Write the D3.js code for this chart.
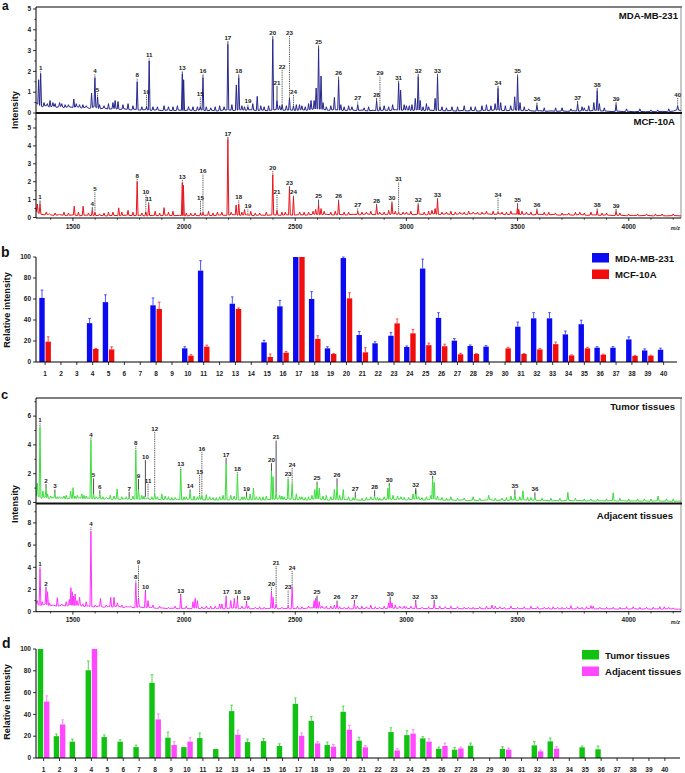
<!DOCTYPE html>
<html><head><meta charset="utf-8">
<script src="https://cdn.jsdelivr.net/npm/d3@7"></script>
<style>body{margin:0;background:#fff}svg{display:block}</style>
</head><body><script>
// ---------------- DATA ----------------
const mzMajorTicks = [1500, 2000, 2500, 3000, 3500, 4000];
const mzMinorTicks = [1400,1600,1700,1800,1900,2100,2200,2300,2400,2600,2700,2800,2900,3100,3200,3300,3400,3600,3700,3800,3900,4100,4200];
const categories = [1,2,3,4,5,6,7,8,9,10,11,12,13,14,15,16,17,18,19,20,21,22,23,24,25,26,27,28,29,30,31,32,33,34,35,36,37,38,39,40];
const relTicks = [0, 20, 40, 60, 80, 100];

// Panel a: MDA-MB-231 spectrum
const mdaBaseline = [[1334,0.5],[1345,0.4],[1362,0.3],[1380,0.36],[1395,0.28],[1410,0.34],[1425,0.27],[1445,0.32],[1460,0.26],[1480,0.3],[1500,0.27],[1520,0.3],[1540,0.24],[1560,0.28],[1575,0.22],[1595,0.3],[1620,0.2],[1640,0.24],[1660,0.18],[1685,0.22],[1710,0.17],[1730,0.2],[1760,0.15],[1780,0.18],[1800,0.14],[1825,0.16],[1850,0.13],[1875,0.15],[1900,0.12],[1925,0.14],[1950,0.11],[1975,0.14],[2000,0.12],[2025,0.14],[2050,0.11],[2075,0.15],[2100,0.11],[2125,0.13],[2150,0.1],[2175,0.14],[2200,0.15],[2225,0.12],[2250,0.16],[2275,0.13],[2300,0.16],[2325,0.12],[2350,0.14],[2375,0.11],[2400,0.15],[2425,0.17],[2450,0.13],[2475,0.15],[2500,0.12],[2525,0.16],[2550,0.13],[2575,0.18],[2600,0.2],[2625,0.17],[2650,0.13],[2675,0.16],[2700,0.14],[2725,0.12],[2750,0.15],[2775,0.12],[2800,0.14],[2825,0.1],[2850,0.13],[2875,0.11],[2900,0.14],[2925,0.12],[2950,0.16],[2975,0.13],[3000,0.15],[3025,0.12],[3050,0.16],[3075,0.11],[3100,0.14],[3125,0.12],[3150,0.13],[3175,0.1],[3200,0.12],[3225,0.09],[3250,0.12],[3275,0.1],[3300,0.12],[3325,0.09],[3350,0.13],[3375,0.11],[3400,0.15],[3425,0.13],[3450,0.11],[3475,0.14],[3500,0.13],[3525,0.11],[3550,0.12],[3575,0.09],[3600,0.11],[3625,0.08],[3650,0.1],[3675,0.08],[3700,0.1],[3725,0.08],[3750,0.11],[3775,0.09],[3800,0.12],[3825,0.1],[3850,0.13],[3875,0.1],[3900,0.09],[3925,0.07],[3950,0.09],[3975,0.07],[4000,0.08],[4025,0.06],[4050,0.08],[4075,0.06],[4100,0.07],[4125,0.06],[4150,0.08],[4175,0.06],[4200,0.09],[4215,0.15],[4235,0.12]];
const mdaPeaks = [[1346,1.6],[1355,1.9],[1370,0.5],[1397,0.6],[1420,0.45],[1440,0.5],[1465,0.4],[1504,0.67],[1530,0.4],[1560,0.35],[1584,0.95],[1599,1.7],[1611,0.78],[1640,0.35],[1680,0.5],[1703,0.55],[1748,0.45],[1789,1.5],[1831,0.3],[1843,2.5],[1880,0.3],[1910,0.35],[1950,0.3],[1992,1.87],[1998,1.6],[2040,0.3],[2060,0.3],[2073,0.3],[2085,1.7],[2120,0.25],[2160,0.35],[2197,3.3],[2235,1.35],[2246,1.7],[2272,0.3],[2287,0.3],[2309,0.45],[2329,0.8],[2360,0.3],[2399,3.55],[2418,0.6],[2430,0.35],[2441,0.4],[2474,0.7],[2492,0.35],[2519,0.4],[2545,0.3],[2571,0.6],[2594,1.2],[2605,3.1],[2616,1.78],[2640,0.3],[2676,0.75],[2695,1.6],[2720,0.3],[2781,0.4],[2810,0.25],[2866,0.58],[2881,0.3],[2920,0.3],[2938,0.4],[2965,1.43],[2974,1.1],[3013,0.35],[3040,0.7],[3053,1.75],[3062,0.6],[3100,0.3],[3129,0.7],[3140,1.75],[3180,0.25],[3230,0.3],[3290,0.3],[3340,0.35],[3380,0.35],[3399,0.45],[3412,1.19],[3424,0.5],[3469,0.35],[3487,0.78],[3500,1.72],[3511,0.5],[3550,0.2],[3587,0.37],[3671,0.25],[3740,0.2],[3770,0.45],[3800,0.25],[3843,0.5],[3858,1.07],[3868,0.45],[3943,0.4],[4050,0.2],[4130,0.15],[4220,0.35],
  [1385,0.45],[1410,0.5],[1450,0.45],[1480,0.4],[1515,0.45],[1545,0.4],[1620,0.4],[1660,0.45],[1690,0.6],[1725,0.4],[1770,0.35],[1810,0.3],[1860,0.3],[1930,0.3],[1970,0.35],[2020,0.3],[2100,0.3],[2140,0.3],[2180,0.3],[2215,0.4],[2260,0.35],[2345,0.35],[2380,0.35],[2460,0.35],[2505,0.4],[2530,0.35],[2560,0.45],[2585,0.6],[2625,0.5],[2660,0.35],[2705,0.4],[2740,0.35],[2755,0.3],[2830,0.3],[2900,0.35],[2990,0.4],[3000,0.35],[3025,0.4],[3075,0.3],[3090,0.45],[3160,0.3],[3205,0.3],[3260,0.35],[3310,0.3],[3360,0.4],[3445,0.35],[3530,0.3],[3620,0.25],[3700,0.25],[3790,0.3],[3820,0.35],[3890,0.25],[3990,0.2],[4100,0.15],[4180,0.2]];
// [number, m/z, leader top, leader bottom, style]
const mdaLabels = [[1,1355,2.0,1.9,'d'],[4,1599,1.85,1.7,'d'],[5,1611,0.95,0.78,'d'],[8,1789,1.65,1.5,'d'],[10,1831,0.85,0.2,'d'],[11,1843,2.62,2.5,'d'],[13,1992,2.0,1.87,'s'],[15,2073,0.75,0.15,'d'],[16,2085,1.85,1.7,'s'],[17,2197,3.45,3.3,'s'],[18,2246,1.85,1.7,'s'],[19,2287,0.4,0.28,'d'],[20,2399,3.7,3.55,'s'],[21,2418,1.3,0.6,'s'],[22,2441,2.07,0.4,'d'],[23,2474,3.7,0.7,'d'],[24,2492,0.87,0.35,'d'],[25,2605,3.25,3.1,'s'],[26,2695,1.75,1.6,'s'],[27,2781,0.55,0.4,'d'],[28,2866,0.72,0.58,'s'],[29,2881,1.75,0.3,'d'],[31,2965,1.55,1.43,'s'],[32,3053,1.88,1.75,'s'],[33,3140,1.88,1.75,'s'],[34,3412,1.3,1.19,'s'],[35,3500,1.85,1.72,'s'],[36,3587,0.5,0.37,'s'],[37,3770,0.58,0.45,'s'],[38,3858,1.2,1.07,'s'],[39,3943,0.52,0.4,'s'],[40,4220,0.72,0.35,'d']];

// Panel a: MCF-10A spectrum
const mcfBaseline = [[1334,0.35],[1350,0.2],[1370,0.15],[1390,0.18],[1410,0.12],[1440,0.15],[1470,0.11],[1500,0.14],[1530,0.1],[1560,0.13],[1590,0.1],[1620,0.12],[1650,0.09],[1680,0.12],[1710,0.1],[1740,0.13],[1770,0.1],[1800,0.12],[1830,0.09],[1860,0.12],[1890,0.1],[1920,0.13],[1950,0.1],[1980,0.12],[2010,0.09],[2040,0.12],[2070,0.1],[2100,0.13],[2130,0.1],[2160,0.14],[2190,0.12],[2220,0.16],[2250,0.12],[2280,0.15],[2310,0.11],[2340,0.14],[2370,0.12],[2400,0.15],[2430,0.12],[2460,0.15],[2490,0.13],[2520,0.16],[2550,0.13],[2580,0.18],[2610,0.15],[2640,0.18],[2670,0.14],[2700,0.17],[2730,0.14],[2760,0.18],[2790,0.15],[2820,0.2],[2850,0.16],[2880,0.19],[2910,0.16],[2940,0.2],[2970,0.17],[3000,0.2],[3030,0.16],[3060,0.19],[3090,0.15],[3120,0.2],[3150,0.17],[3180,0.2],[3210,0.16],[3240,0.21],[3270,0.17],[3300,0.22],[3330,0.18],[3360,0.21],[3390,0.17],[3420,0.2],[3450,0.16],[3480,0.2],[3510,0.17],[3540,0.19],[3570,0.15],[3600,0.18],[3630,0.14],[3660,0.17],[3690,0.13],[3720,0.16],[3750,0.13],[3780,0.17],[3810,0.12],[3840,0.15],[3870,0.12],[3900,0.14],[3930,0.11],[3960,0.13],[3990,0.1],[4020,0.12],[4050,0.1],[4080,0.12],[4110,0.09],[4140,0.11],[4170,0.09],[4200,0.11],[4235,0.09]];
const mcfPeaks = [[1340,0.75],[1352,0.75],[1380,0.3],[1420,0.25],[1460,0.3],[1506,0.63],[1525,0.3],[1546,0.63],[1570,0.25],[1587,0.4],[1599,0.3],[1640,0.25],[1680,0.3],[1706,0.54],[1748,0.4],[1770,0.3],[1789,2.0],[1828,0.3],[1841,0.7],[1870,0.35],[1910,0.55],[1950,0.35],[1992,1.94],[1997,1.8],[2030,0.25],[2074,0.25],[2085,0.3],[2110,0.35],[2150,0.3],[2197,4.36],[2212,0.3],[2234,0.7],[2246,0.75],[2272,0.45],[2300,0.35],[2340,0.25],[2399,2.4],[2418,0.4],[2440,0.3],[2474,1.63],[2492,1.1],[2520,0.3],[2560,0.3],[2592,0.45],[2605,0.7],[2616,0.5],[2660,0.3],[2695,0.87],[2720,0.3],[2781,0.35],[2820,0.3],[2866,0.64],[2900,0.3],[2935,0.8],[2965,0.3],[3000,0.3],[3053,0.7],[3100,0.35],[3129,0.5],[3140,0.98],[3180,0.3],[3220,0.3],[3260,0.3],[3300,0.3],[3340,0.3],[3390,0.35],[3412,0.3],[3450,0.3],[3500,0.6],[3505,0.45],[3540,0.3],[3587,0.4],[3640,0.3],[3700,0.25],[3760,0.3],[3800,0.25],[3858,0.38],[3900,0.25],[3943,0.35],[4000,0.2],[4080,0.2],[4150,0.2],[4200,0.2],
  [1395,0.2],[1440,0.2],[1480,0.25],[1620,0.2],[1660,0.3],[1720,0.3],[1810,0.25],[1890,0.25],[1930,0.3],[2010,0.25],[2050,0.25],[2130,0.25],[2170,0.3],[2260,0.3],[2320,0.25],[2370,0.3],[2455,0.3],[2540,0.3],[2580,0.35],[2630,0.35],[2680,0.35],[2740,0.3],[2800,0.3],[2840,0.35],[2880,0.3],[2920,0.4],[2950,0.35],[2985,0.3],[3020,0.35],[3080,0.3],[3115,0.4],[3160,0.3],[3200,0.35],[3240,0.3],[3280,0.35],[3320,0.3],[3360,0.35],[3430,0.3],[3470,0.35],[3520,0.35],[3560,0.3],[3620,0.3],[3670,0.25],[3730,0.25],[3780,0.3],[3830,0.3],[3880,0.25],[3960,0.25],[4040,0.2],[4120,0.2]];
const mcfLabels = [[1,1352,0.95,0.75,'s'],[4,1587,0.58,0.4,'s'],[5,1599,1.4,0.3,'d'],[8,1789,2.15,2.0,'d'],[10,1828,1.25,0.2,'d'],[11,1841,0.85,0.7,'s'],[13,1992,2.1,1.94,'d'],[15,2074,0.93,0.15,'d'],[16,2085,2.4,0.3,'d'],[17,2197,4.5,4.36,'s'],[18,2246,0.95,0.75,'d'],[19,2287,0.45,0.2,'d'],[20,2399,2.6,2.4,'d'],[21,2418,1.25,0.4,'d'],[23,2474,1.75,1.63,'s'],[24,2492,1.22,1.1,'s'],[25,2605,1.0,0.7,'s'],[26,2695,1.0,0.87,'s'],[27,2781,0.5,0.35,'d'],[28,2866,0.76,0.64,'s'],[30,2935,0.9,0.8,'s'],[31,2965,1.95,0.3,'d'],[32,3053,0.8,0.7,'s'],[33,3140,1.08,0.98,'s'],[34,3412,1.08,0.3,'d'],[35,3500,0.8,0.6,'s'],[36,3587,0.5,0.4,'s'],[38,3858,0.5,0.38,'s'],[39,3943,0.48,0.35,'s']];

// Panel b: relative intensity (null = not detected)
const mdaRel = [61,null,null,37,57,null,null,54,null,13,87,null,55.5,null,18.7,53,100,60,13,99,25.7,17.8,25,14.3,89,42,20.3,15.2,14.6,null,33.6,41.6,41.6,26.3,36,13.6,13.6,21.5,11,11.7];
const mdaErr = [7.5,null,null,4.5,7,null,null,7,null,1.5,9.5,null,6.5,null,2,5.7,0,7,1.5,1,3.3,1.5,3,1,9,5,2,1,1,null,4.4,5.4,5.4,3.2,3.8,1,1,2.5,1.5,1.5];
const mcfRel = [19.4,null,null,12.4,12,null,null,50.5,null,6,14.6,null,50.5,null,4.8,8.9,100,22,7.6,60.6,9.2,null,36.8,27.3,16,15,7.3,7.6,null,13,7.6,12,17,6.3,13,7,null,5.8,6,null];
const mcfErr = [4.6,null,null,0.5,2.5,null,null,6.5,null,1,1.5,null,1,null,2.8,1.1,0,3,0.5,5.4,4.4,null,4.2,3.7,2,2,1,0.5,null,1,0.5,1,2,0.5,1,0.5,null,0.5,0.5,null];

// Panel c: tumor tissue spectrum
const tumBaseline = [[1334,0.5],[1345,0.4],[1360,0.3],[1375,0.38],[1395,0.26],[1410,0.34],[1430,0.25],[1450,0.32],[1470,0.24],[1490,0.3],[1510,0.26],[1530,0.33],[1550,0.25],[1570,0.3],[1595,0.24],[1615,0.3],[1635,0.22],[1655,0.28],[1675,0.21],[1695,0.27],[1715,0.2],[1735,0.26],[1760,0.2],[1780,0.25],[1805,0.22],[1830,0.27],[1850,0.2],[1875,0.24],[1900,0.18],[1920,0.23],[1945,0.17],[1970,0.22],[1995,0.18],[2020,0.23],[2045,0.17],[2070,0.22],[2095,0.16],[2120,0.21],[2145,0.15],[2170,0.2],[2200,0.18],[2225,0.23],[2250,0.17],[2275,0.21],[2300,0.18],[2325,0.22],[2350,0.16],[2375,0.2],[2400,0.22],[2425,0.25],[2450,0.19],[2475,0.24],[2500,0.18],[2525,0.21],[2550,0.16],[2575,0.22],[2600,0.26],[2625,0.2],[2650,0.16],[2675,0.22],[2700,0.18],[2725,0.21],[2750,0.15],[2775,0.19],[2800,0.14],[2825,0.18],[2850,0.22],[2875,0.16],[2900,0.2],[2925,0.24],[2950,0.2],[2975,0.24],[3000,0.17],[3025,0.22],[3050,0.25],[3075,0.17],[3100,0.2],[3125,0.25],[3150,0.18],[3175,0.15],[3200,0.19],[3225,0.14],[3250,0.18],[3275,0.13],[3300,0.17],[3325,0.13],[3350,0.16],[3375,0.2],[3400,0.14],[3425,0.17],[3450,0.13],[3475,0.18],[3500,0.15],[3525,0.19],[3550,0.14],[3575,0.17],[3600,0.13],[3625,0.15],[3650,0.11],[3675,0.14],[3700,0.11],[3725,0.16],[3750,0.12],[3775,0.14],[3800,0.1],[3825,0.13],[3850,0.1],[3875,0.12],[3900,0.1],[3925,0.14],[3950,0.1],[3975,0.12],[4000,0.09],[4025,0.11],[4050,0.09],[4075,0.11],[4100,0.08],[4125,0.12],[4150,0.09],[4175,0.1],[4200,0.08],[4235,0.1]];
const tumPeaks = [[1340,1.33],[1352,5.27],[1365,0.8],[1379,1.0],[1386,0.6],[1400,0.45],[1419,0.64],[1440,0.4],[1470,0.5],[1490,0.8],[1501,1.03],[1520,0.5],[1540,0.6],[1560,0.45],[1581,4.34],[1593,0.6],[1605,0.4],[1621,0.64],[1650,0.35],[1668,0.5],[1699,0.94],[1720,0.4],[1753,0.35],[1770,0.45],[1783,3.65],[1795,0.9],[1810,0.5],[1826,0.3],[1838,0.35],[1855,0.4],[1868,0.6],[1900,0.6],[1930,0.4],[1960,0.35],[1985,2.26],[2010,0.4],[2027,0.75],[2045,0.45],[2070,0.5],[2080,0.5],[2100,0.55],[2130,0.35],[2160,0.4],[2175,0.5],[2189,2.67],[2210,0.5],[2240,1.96],[2260,0.4],[2281,0.4],[2297,0.6],[2312,1.0],[2340,0.4],[2370,0.45],[2393,2.19],[2400,1.8],[2414,0.7],[2430,0.5],[2450,0.4],[2468,1.63],[2486,1.3],[2505,0.6],[2530,0.4],[2560,0.4],[2588,0.9],[2598,1.2],[2608,1.0],[2640,0.5],[2660,0.4],[2676,0.9],[2688,1.1],[2716,0.9],[2740,0.4],[2770,0.35],[2800,0.3],[2840,0.4],[2857,0.45],[2880,0.3],[2917,1.0],[2923,1.2],[2940,0.5],[2960,0.45],[2990,0.35],[3030,0.6],[3042,0.85],[3070,0.35],[3110,0.5],[3118,1.68],[3125,1.4],[3160,0.35],[3200,0.4],[3260,0.3],[3300,0.4],[3370,0.5],[3430,0.3],[3470,0.45],[3488,0.55],[3524,0.82],[3560,0.35],[3578,0.4],[3650,0.3],[3726,0.7],[3800,0.25],[3860,0.25],[3930,0.68],[4000,0.25],[4070,0.25],[4132,0.45],[4200,0.25],
  [1430,0.4],[1460,0.45],[1510,0.45],[1550,0.5],[1635,0.4],[1685,0.45],[1740,0.4],[1820,0.45],[1880,0.4],[1915,0.45],[1945,0.35],[2000,0.4],[2060,0.4],[2115,0.4],[2145,0.35],[2225,0.45],[2270,0.4],[2325,0.4],[2355,0.4],[2440,0.45],[2520,0.4],[2545,0.35],[2575,0.5],[2625,0.45],[2700,0.5],[2760,0.35],[2820,0.35],[2870,0.35],[2900,0.4],[2975,0.4],[3010,0.35],[3055,0.4],[3090,0.4],[3140,0.45],[3180,0.3],[3230,0.3],[3330,0.3],[3400,0.3],[3450,0.35],[3510,0.4],[3545,0.35],[3610,0.3],[3690,0.3],[3760,0.3],[3830,0.25],[3900,0.25],[3960,0.3],[4040,0.25],[4100,0.25],[4170,0.25]];
const tumLabels = [[1,1352,5.5,5.27,'d'],[2,1379,1.3,1.0,'s'],[3,1419,0.9,0.64,'s'],[4,1581,4.5,4.34,'d'],[5,1593,1.68,0.6,'s'],[6,1621,0.85,0.64,'s'],[7,1753,0.75,0.35,'s'],[8,1783,3.9,3.65,'d'],[9,1795,1.63,0.9,'s'],[10,1826,2.95,0.4,'s'],[11,1838,1.3,0.4,'d'],[12,1868,4.9,0.6,'d'],[13,1985,2.45,2.26,'d'],[14,2027,0.9,0.75,'s'],[15,2070,1.91,0.5,'d'],[16,2080,3.5,0.5,'d'],[17,2189,3.1,2.67,'s'],[18,2240,2.1,1.96,'d'],[19,2281,0.75,0.4,'s'],[20,2393,2.73,2.19,'s'],[21,2414,4.3,0.7,'s'],[23,2468,1.75,1.63,'d'],[24,2486,2.4,1.3,'d'],[25,2598,1.45,1.2,'s'],[26,2688,1.68,1.1,'s'],[27,2770,0.75,0.35,'s'],[28,2857,0.85,0.45,'s'],[30,2923,1.35,1.2,'s'],[32,3042,1.0,0.6,'s'],[33,3118,1.85,1.68,'s'],[35,3488,0.9,0.55,'s'],[36,3578,0.7,0.4,'s']];

// Panel c: adjacent tissue spectrum
const adjBaseline = [[1334,0.8],[1345,0.6],[1360,0.55],[1375,0.7],[1395,0.5],[1410,0.6],[1430,0.48],[1450,0.58],[1470,0.5],[1490,0.62],[1510,0.55],[1530,0.6],[1550,0.45],[1570,0.52],[1595,0.42],[1615,0.5],[1640,0.4],[1660,0.48],[1680,0.42],[1700,0.5],[1725,0.38],[1750,0.44],[1775,0.36],[1800,0.42],[1825,0.35],[1850,0.4],[1875,0.3],[1900,0.34],[1925,0.28],[1950,0.32],[1975,0.27],[2000,0.31],[2025,0.27],[2050,0.33],[2075,0.28],[2100,0.32],[2125,0.27],[2150,0.3],[2175,0.26],[2200,0.3],[2225,0.34],[2250,0.28],[2275,0.32],[2300,0.26],[2325,0.29],[2350,0.25],[2375,0.29],[2400,0.32],[2425,0.27],[2450,0.3],[2475,0.26],[2500,0.3],[2525,0.26],[2550,0.31],[2575,0.35],[2600,0.3],[2625,0.34],[2650,0.27],[2675,0.3],[2700,0.26],[2725,0.29],[2750,0.25],[2775,0.3],[2800,0.26],[2825,0.31],[2850,0.27],[2875,0.3],[2900,0.27],[2925,0.33],[2950,0.3],[2975,0.34],[3000,0.27],[3025,0.31],[3050,0.27],[3075,0.3],[3100,0.26],[3125,0.3],[3150,0.27],[3175,0.31],[3200,0.26],[3225,0.3],[3250,0.26],[3275,0.29],[3300,0.25],[3325,0.29],[3350,0.26],[3375,0.3],[3400,0.27],[3425,0.3],[3450,0.25],[3475,0.29],[3500,0.26],[3525,0.28],[3550,0.25],[3575,0.29],[3600,0.25],[3625,0.28],[3650,0.24],[3675,0.28],[3700,0.25],[3725,0.28],[3750,0.25],[3775,0.28],[3800,0.24],[3825,0.29],[3850,0.25],[3875,0.27],[3900,0.24],[3925,0.27],[3950,0.23],[3975,0.27],[4000,0.24],[4025,0.27],[4050,0.23],[4075,0.26],[4100,0.23],[4125,0.26],[4150,0.23],[4175,0.27],[4200,0.24],[4235,0.22]];
const adjPeaks = [[1340,1.0],[1352,3.9],[1362,0.9],[1379,2.1],[1386,1.8],[1395,0.8],[1430,1.26],[1450,0.7],[1470,0.9],[1484,1.1],[1491,2.16],[1497,1.8],[1503,1.4],[1510,1.6],[1518,1.0],[1530,1.3],[1545,0.7],[1560,0.9],[1581,7.2],[1600,0.6],[1624,1.2],[1650,0.6],[1670,1.3],[1685,1.3],[1700,0.8],[1720,0.6],[1740,0.5],[1760,0.5],[1783,2.56],[1795,1.2],[1826,1.8],[1838,1.0],[1860,0.6],[1890,0.5],[1930,0.4],[1960,0.5],[1985,1.41],[2010,0.5],[2040,0.9],[2050,1.2],[2060,1.0],[2100,0.5],[2140,0.5],[2160,0.7],[2170,0.7],[2189,1.3],[2210,1.0],[2226,1.2],[2240,1.1],[2260,0.5],[2281,0.8],[2320,0.4],[2360,0.4],[2393,1.8],[2400,1.3],[2414,0.7],[2440,0.4],[2468,0.5],[2486,2.2],[2510,0.5],[2560,0.5],[2585,1.0],[2592,1.2],[2598,1.05],[2608,0.9],[2640,0.5],[2676,0.6],[2688,0.7],[2720,0.4],[2766,0.8],[2800,0.5],[2840,0.6],[2880,0.4],[2920,0.8],[2927,1.05],[2935,0.8],[2950,0.6],[2990,0.5],[3020,0.5],[3042,0.8],[3070,0.4],[3125,0.75],[3150,0.5],[3200,0.5],[3260,0.4],[3300,0.4],[3360,0.5],[3385,0.6],[3400,0.5],[3440,0.4],[3470,0.5],[3500,0.4],[3560,0.5],[3620,0.4],[3660,0.45],[3700,0.4],[3740,0.55],[3790,0.4],[3830,0.55],[3840,0.5],[3900,0.4],[3960,0.4],[4020,0.45],[4080,0.4],[4160,0.45],[4200,0.35],
  [2080,0.45],[2120,0.5],[2290,0.5],[2340,0.45],[2530,0.45],[2620,0.5],[2660,0.5],[2700,0.45],[2740,0.45],[2780,0.5],[2820,0.45],[2860,0.45],[2900,0.5],[2970,0.5],[3000,0.45],[3100,0.45],[3175,0.45],[3230,0.45],[3280,0.4],[3330,0.45],[3420,0.45],[3530,0.45],[3590,0.45],[3640,0.4],[3680,0.4],[3720,0.4],[3770,0.45],[3810,0.45],[3870,0.4],[3930,0.4],[3990,0.45],[4050,0.4],[4110,0.4],[4140,0.45],[4180,0.4]];
const adjLabels = [[1,1352,4.05,3.9,'d'],[2,1379,2.25,2.1,'s'],[4,1581,7.6,7.2,'d'],[8,1783,2.8,2.56,'d'],[9,1795,4.15,1.2,'d'],[10,1826,1.95,1.8,'s'],[13,1985,1.6,1.41,'s'],[17,2189,1.45,1.3,'s'],[18,2240,1.45,1.1,'s'],[19,2281,0.95,0.8,'s'],[20,2393,2.2,1.8,'d'],[21,2414,4.1,0.7,'d'],[23,2468,1.9,0.5,'d'],[24,2486,3.65,2.2,'d'],[25,2598,1.45,1.05,'s'],[26,2688,1.0,0.7,'s'],[27,2766,1.05,0.8,'s'],[30,2927,1.35,1.05,'s'],[32,3042,1.05,0.8,'s'],[33,3125,1.05,0.75,'s']];

// Panel d: relative intensity
const tumRel = [100,20,15,80.5,19.2,15,10,69,18.6,10,18.3,8.2,43,14.6,15.5,11,49.7,34,11.9,42.4,15.9,null,23.8,21,18,8.5,7.6,11.3,null,8.3,null,11.6,15.3,null,9.8,8,null,null,null,null];
const tumErr = [0,2,2.4,8.5,2,1.8,1.8,7.5,5.2,0,4.6,0,5.5,2.8,2.5,2,5.3,4,2.7,5.2,3.1,null,3.9,4,1.5,1.5,1.9,2.4,null,2.1,null,3.4,3,null,1.2,3,null,null,null,null];
const adjRel = [51.8,30.8,null,100,null,null,null,35.4,11.9,15,null,null,21.3,null,null,null,20.4,13.4,10.4,26,9.8,null,7,22.3,15,11,8.8,null,null,7.6,null,6.1,8.6,null,null,null,null,null,null,null];
const adjErr = [5.2,4.2,null,0,null,null,null,5.1,3.1,3.6,null,null,4.3,null,null,null,2.6,1.6,2.1,4,1.5,null,1.8,3.7,2.7,2.7,1.2,null,null,1.6,null,1.2,1.8,null,null,null,null,null,null,null];

// ---------------- DRAWING ----------------
const FONT = '"Liberation Sans", Arial, Helvetica, sans-serif';
const svg = d3.select('body').append('svg').attr('width', 685).attr('height', 773)
  .style('font-family', FONT);

const xMz = d3.scaleLinear().domain([1334, 4235]).range([36, 681]);
const HALF = 4; // spike half-width (m/z)

function tracePts(baseline, peaks) {
  const base = d3.scaleLinear().domain(baseline.map(d => d[0])).range(baseline.map(d => d[1]));
  const pts = baseline.filter(b => !peaks.some(p => Math.abs(p[0] - b[0]) < HALF + 1));
  peaks.forEach(p => {
    pts.push([p[0] - HALF, base(p[0] - HALF)]);
    pts.push([p[0], p[1]]);
    pts.push([p[0] + HALF, base(p[0] + HALF)]);
  });
  pts.sort((a, b) => a[0] - b[0]);
  return pts;
}

function drawSpectrum(y, baseline, peaks, labels, color) {
  const line = d3.line().x(d => xMz(d[0])).y(d => y(d[1]));
  svg.append('path').attr('d', line(tracePts(baseline, peaks)))
    .attr('fill', 'none').attr('stroke', color).attr('stroke-width', 1)
    .attr('stroke-linejoin', 'round');
  const g = svg.append('g');
  labels.forEach(l => {
    const xx = xMz(l[1]);
    g.append('line').attr('x1', xx).attr('x2', xx).attr('y1', y(l[2])).attr('y2', y(l[3]))
      .attr('stroke', '#222').attr('stroke-width', 0.8)
      .attr('stroke-dasharray', l[4] === 'd' ? '1,0.8' : null);
    g.append('text').attr('x', xx).attr('y', y(l[2]) - 1.2).attr('text-anchor', 'middle')
      .attr('font-size', 6.2).attr('font-weight', 'bold').attr('fill', '#222').text(l[0]);
  });
}

function yAxisSpec(y, majors, minors) {
  const g = svg.append('g');
  majors.forEach(v => {
    g.append('line').attr('x1', 33).attr('x2', 36).attr('y1', y(v)).attr('y2', y(v)).attr('stroke', '#000').attr('stroke-width', 0.8);
    g.append('text').attr('x', 31).attr('y', y(v)).attr('dy', '0.35em').attr('text-anchor', 'end')
      .attr('font-size', 6.5).attr('font-weight', 'bold').attr('fill', '#222').text(v);
  });
  minors.forEach(v => {
    g.append('line').attr('x1', 34.3).attr('x2', 36).attr('y1', y(v)).attr('y2', y(v)).attr('stroke', '#000').attr('stroke-width', 0.7);
  });
}

function xAxisSpec(yPix) {
  const g = svg.append('g');
  g.append('line').attr('x1', 36).attr('x2', 681).attr('y1', yPix).attr('y2', yPix).attr('stroke', '#000').attr('stroke-width', 1);
  mzMajorTicks.forEach(v => {
    g.append('line').attr('x1', xMz(v)).attr('x2', xMz(v)).attr('y1', yPix).attr('y2', yPix + 3).attr('stroke', '#000').attr('stroke-width', 0.8);
    g.append('text').attr('x', xMz(v)).attr('y', yPix + 10.5).attr('text-anchor', 'middle')
      .attr('font-size', 6.5).attr('font-weight', 'bold').attr('fill', '#222').text(v);
  });
  mzMinorTicks.forEach(v => {
    g.append('line').attr('x1', xMz(v)).attr('x2', xMz(v)).attr('y1', yPix).attr('y2', yPix + 1.8).attr('stroke', '#000').attr('stroke-width', 0.7);
  });
  g.append('text').attr('x', 680).attr('y', yPix + 12).attr('text-anchor', 'end')
    .attr('font-size', 5.5).attr('font-weight', 'bold').attr('font-style', 'italic').attr('fill', '#222').text('m/z');
}

function frame(top, bottom, sep) {
  svg.append('line').attr('x1', 36).attr('x2', 682).attr('y1', top).attr('y2', top).attr('stroke', '#555').attr('stroke-width', 1.4);
  svg.append('line').attr('x1', 681).attr('x2', 681).attr('y1', top).attr('y2', bottom).attr('stroke', '#777').attr('stroke-width', 0.8);
  svg.append('line').attr('x1', 36).attr('x2', 36).attr('y1', top).attr('y2', bottom).attr('stroke', '#000').attr('stroke-width', 1);
  svg.append('line').attr('x1', 36).attr('x2', 682).attr('y1', sep).attr('y2', sep).attr('stroke', '#111').attr('stroke-width', 2);
}

function panelLetter(t, x, y, size) {
  svg.append('text').attr('x', x).attr('y', y).attr('font-size', size).attr('font-weight', 'bold').attr('fill', '#111').text(t);
}
function yTitle(t, x, y) {
  svg.append('text').attr('transform', `translate(${x},${y}) rotate(-90)`).attr('text-anchor', 'middle')
    .attr('font-size', 9.2).attr('font-weight', 'bold').attr('fill', '#111').text(t);
}
function cornerText(t, x, y) {
  svg.append('text').attr('x', x).attr('y', y).attr('text-anchor', 'end').attr('font-size', 9.6)
    .attr('font-weight', 'bold').attr('fill', '#111').text(t);
}

// ----- Panel a -----
const yMda = d3.scaleLinear().domain([0, 5.1]).range([113, 6.9]);
const yMcf = d3.scaleLinear().domain([0, 5.85]).range([217.5, 112.8]);
drawSpectrum(yMda, mdaBaseline, mdaPeaks, mdaLabels, '#26268e');
drawSpectrum(yMcf, mcfBaseline, mcfPeaks, mcfLabels, '#e8141c');
frame(7, 218, 113);
yAxisSpec(yMda, [0,1,2,3,4,5], [0.5,1.5,2.5,3.5,4.5]);
yAxisSpec(yMcf, [0,1,2,3,4,5], [0.5,1.5,2.5,3.5,4.5,5.5]);
xAxisSpec(218);
panelLetter('a', 2, 10, 12);
yTitle('Intensity', 18, 110);
cornerText('MDA-MB-231', 678, 19);
cornerText('MCF-10A', 675, 125);

// ----- Bar panels -----
function drawBars(y, x0, step, axisY, axisEnd, s1, e1, s2, e2, c1, c2, ce1, ce2) {
  const xc = d3.scaleLinear().domain([1, 40]).range([x0, x0 + 39 * step]);
  const g = svg.append('g');
  const bw = 5.4;
  const drawSet = (vals, errs, off, col, ecol) => {
    categories.forEach((c, i) => {
      const v = vals[i];
      if (v === null) return;
      const bx = xc(c) + off;
      g.append('rect').attr('x', bx).attr('y', y(v)).attr('width', bw).attr('height', y(0) - y(v)).attr('fill', col);
      const e = errs[i];
      if (e) {
        const cx = bx + bw / 2;
        g.append('line').attr('x1', cx).attr('x2', cx).attr('y1', y(v)).attr('y2', y(v + e)).attr('stroke', ecol).attr('stroke-width', 0.9);
        g.append('line').attr('x1', cx - 1.3).attr('x2', cx + 1.3).attr('y1', y(v + e)).attr('y2', y(v + e)).attr('stroke', ecol).attr('stroke-width', 0.9);
      }
    });
  };
  drawSet(s1, e1, -5.8, c1, ce1);
  drawSet(s2, e2, 0.4, c2, ce2);
  g.append('line').attr('x1', 36).attr('x2', axisEnd).attr('y1', axisY).attr('y2', axisY).attr('stroke', '#000').attr('stroke-width', 1);
  g.append('line').attr('x1', 36).attr('x2', 36).attr('y1', y(100)).attr('y2', axisY).attr('stroke', '#000').attr('stroke-width', 1);
  categories.forEach(c => {
    g.append('line').attr('x1', xc(c)).attr('x2', xc(c)).attr('y1', axisY).attr('y2', axisY + 3).attr('stroke', '#000').attr('stroke-width', 0.8);
    g.append('text').attr('x', xc(c)).attr('y', axisY + 13.5).attr('text-anchor', 'middle')
      .attr('font-size', 6.5).attr('font-weight', 'bold').attr('fill', '#222').text(c);
  });
  relTicks.forEach(v => {
    g.append('line').attr('x1', 33).attr('x2', 36).attr('y1', y(v)).attr('y2', y(v)).attr('stroke', '#000').attr('stroke-width', 0.8);
    g.append('text').attr('x', 31).attr('y', y(v)).attr('dy', '0.35em').attr('text-anchor', 'end')
      .attr('font-size', 6.5).attr('font-weight', 'bold').attr('fill', '#222').text(v);
  });
}
function legend(x, y, items) {
  items.forEach((it, i) => {
    svg.append('rect').attr('x', x).attr('y', y + i * 16.5).attr('width', 17).attr('height', 9.5).attr('fill', it[1]);
    svg.append('text').attr('x', x + 23).attr('y', y + i * 16.5 + 8.6).attr('font-size', 9.6)
      .attr('font-weight', 'bold').attr('fill', '#111').text(it[0]);
  });
}

// ----- Panel b -----
const yB = d3.scaleLinear().domain([0, 100]).range([362, 257]);
drawBars(yB, 45.1, 15.86, 362, 677, mdaRel, mdaErr, mcfRel, mcfErr, '#0b0bf2', '#f20d0d', '#3d3dff', '#ff3d3d');
panelLetter('b', 1, 257, 14);
yTitle('Relative intensity', 10, 310);
legend(592, 253, [['MDA-MB-231', '#0b0bf2'], ['MCF-10A', '#f20d0d']]);

// ----- Panel c -----
const yTum = d3.scaleLinear().domain([0, 7.3]).range([502.5, 397.4]);
const yAdj = d3.scaleLinear().domain([0, 9.7]).range([611.7, 504]);
drawSpectrum(yTum, tumBaseline, tumPeaks, tumLabels, '#3ddd3d');
drawSpectrum(yAdj, adjBaseline, adjPeaks, adjLabels, '#ff33ff');
frame(398, 611.7, 503.5);
yAxisSpec(yTum, [0,2,4,6], [1,3,5,7]);
yAxisSpec(yAdj, [0,2,4,6,8], [1,3,5,7,9]);
xAxisSpec(611.7);
panelLetter('c', 1, 398.5, 13);
yTitle('Intensity', 18, 504);
cornerText('Tumor tissues', 675, 410);
cornerText('Adjacent tissues', 673, 519);

// ----- Panel d -----
const yD = d3.scaleLinear().domain([0, 100]).range([758, 649]);
drawBars(yD, 43.6, 15.93, 758, 680, tumRel, tumErr, adjRel, adjErr, '#12c212', '#ff48ff', '#3fd63f', '#ff7aff');
panelLetter('d', 2, 648, 14);
yTitle('Relative intensity', 10, 702);
legend(582, 650, [['Tumor tissues', '#12c212'], ['Adjacent tissues', '#ff48ff']]);
</script></body></html>
